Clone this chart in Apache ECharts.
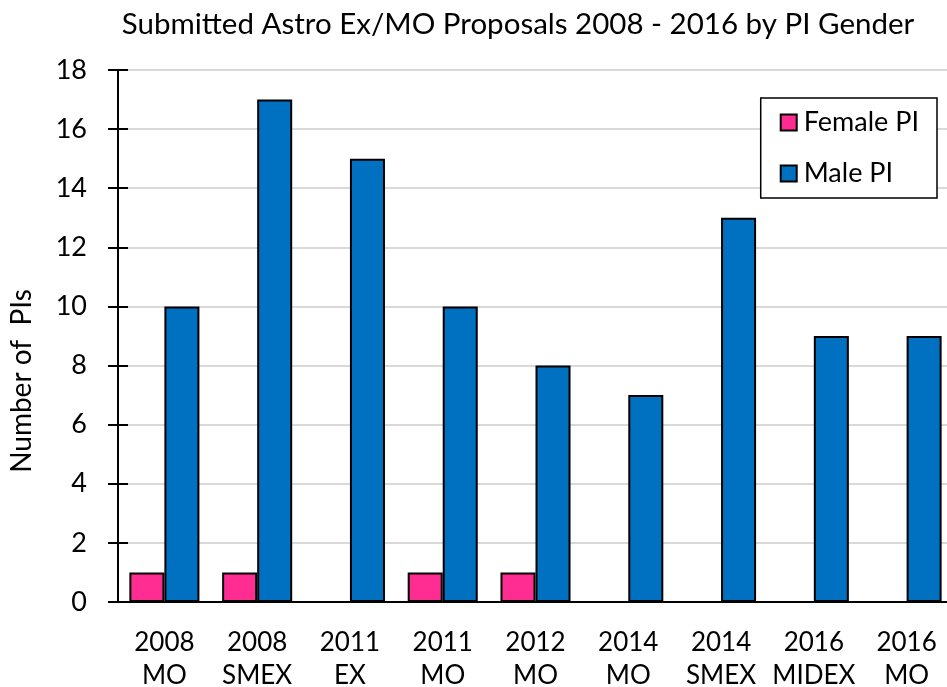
<!DOCTYPE html>
<html><head><meta charset="utf-8">
<script src="https://cdn.jsdelivr.net/npm/echarts@6/dist/echarts.min.js"></script>
<style>html,body{margin:0;padding:0;background:#fff}#c{width:947px;height:687px}</style>
</head><body><div id="c"></div>
<script>
var categories = ['2008\nMO','2008\nSMEX','2011\nEX','2011\nMO','2012\nMO','2014\nMO','2014\nSMEX','2016\nMIDEX','2016\nMO'];
var femalePI = [1,1,0,1,1,0,0,0,0];
var malePI = [10,17,15,10,8,7,13,9,9];
var yTicks = [0,2,4,6,8,10,12,14,16,18];

var FONT = 'Lato';
var chart = echarts.init(document.getElementById('c'));
chart.setOption({
  animation:false,
  backgroundColor:'#fff',
  textStyle:{fontFamily:FONT,color:'#000'},
  title:{text:'Submitted Astro Ex/MO Proposals 2008 - 2016 by PI Gender',left:513,textAlign:'center',top:4,
    textStyle:{fontFamily:FONT,fontSize:29.5,fontWeight:'normal',color:'#000'}},
  graphic:[{type:'text',x:22,y:381,rotation:Math.PI/2,
    style:{text:'Number of  PIs',font:'28px Lato',fill:'#000',align:'center',verticalAlign:'middle'}}],
  legend:{orient:'vertical',right:10,top:98,padding:[11,18,11,19],itemGap:24,
    borderColor:'#000',borderWidth:1.5,backgroundColor:'#fff',
    itemWidth:16,itemHeight:16,icon:'rect',
    textStyle:{fontFamily:FONT,fontSize:27,color:'#000',padding:[0,0,0,2]},
    data:['Female PI','Male PI']},
  grid:{left:118,top:70,right:-6,bottom:85,containLabel:false,outerBoundsMode:'none',
    show:true,borderColor:'#000',borderWidth:2,backgroundColor:'transparent'},
  xAxis:{type:'category',data:categories,
    axisLine:{onZero:false,lineStyle:{color:'#000',width:2}},
    axisTick:{alignWithLabel:true,length:8,lineStyle:{color:'#000',width:2}},
    axisLabel:{fontFamily:FONT,fontSize:26,color:'#000',lineHeight:33,margin:24,interval:0}},
  yAxis:{type:'value',min:yTicks[0],max:yTicks[yTicks.length-1],interval:2,offset:-10,
    axisLine:{show:false},
    axisTick:{show:true,length:20,lineStyle:{color:'#000',width:2}},
    axisLabel:{fontFamily:FONT,fontSize:27,color:'#000',margin:41},
    splitLine:{lineStyle:{color:'#d9d9d9',width:2}}},
  series:[
    {name:'Female PI',type:'bar',barGap:'0%',barCategoryGap:'24.5%',
     itemStyle:{color:'#FF2D92',borderColor:'#000',borderWidth:2},
     data:femalePI.map(function(v){return v===0?null:v;})},
    {name:'Male PI',type:'bar',barGap:'0%',barCategoryGap:'24.5%',
     itemStyle:{color:'#0070C0',borderColor:'#000',borderWidth:2},
     data:malePI}
  ]
});
</script></body></html>
